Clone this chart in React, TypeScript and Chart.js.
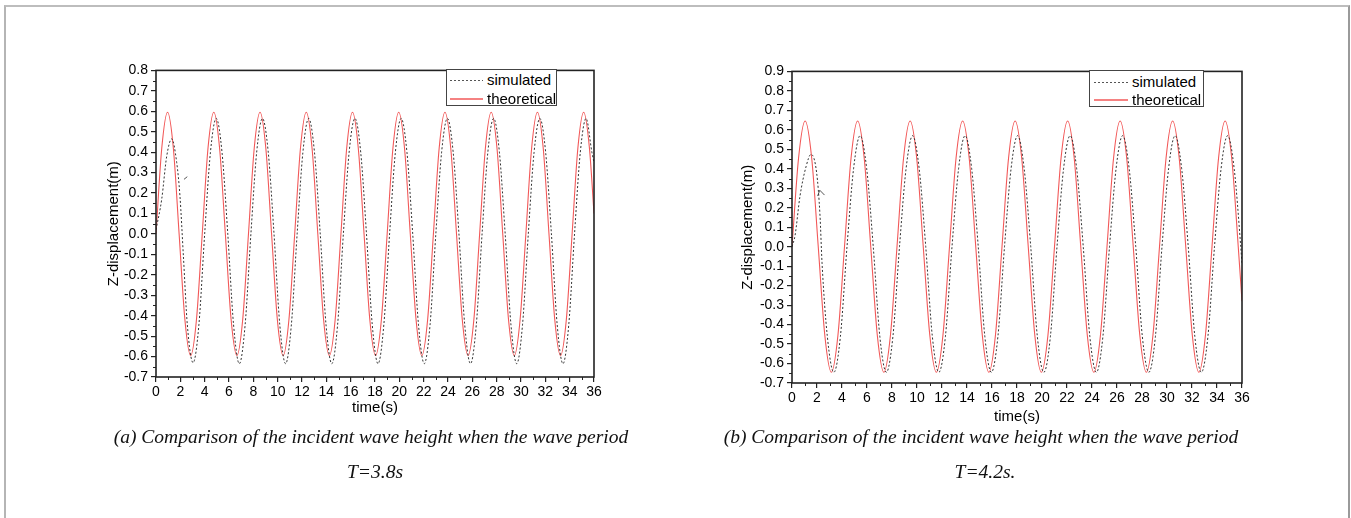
import React, { useEffect, useRef } from "react";
import { Chart, registerables } from "chart.js";

Chart.register(...registerables);

// ---------- Data ----------
// (a) T = 3.8 s
const theoTimeA = [
  0, 0.475, 0.95, 1.425, 1.9, 2.375, 2.85, 3.325,
  3.8, 4.275, 4.75, 5.225, 5.7, 6.175, 6.65, 7.125,
  7.6, 8.075, 8.55, 9.025, 9.5, 9.975, 10.45, 10.925,
  11.4, 11.875, 12.35, 12.825, 13.3, 13.775, 14.25, 14.725,
  15.2, 15.675, 16.15, 16.625, 17.1, 17.575, 18.05, 18.525,
  19.0, 19.475, 19.95, 20.425, 20.9, 21.375, 21.85, 22.325,
  22.8, 23.275, 23.75, 24.225, 24.7, 25.175, 25.65, 26.125,
  26.6, 27.075, 27.55, 28.025, 28.5, 28.975, 29.45, 29.925,
  30.4, 30.875, 31.35, 31.825, 32.3, 32.775, 33.25, 33.725,
  34.2, 34.675, 35.15, 35.625, 36,
];
const theoValueA = [
  0, 0.42, 0.595, 0.42, 0, -0.42, -0.595, -0.42,
  0, 0.42, 0.595, 0.42, 0, -0.42, -0.595, -0.42,
  0, 0.42, 0.595, 0.42, 0, -0.42, -0.595, -0.42,
  0, 0.42, 0.595, 0.42, 0, -0.42, -0.595, -0.42,
  0, 0.42, 0.595, 0.42, 0, -0.42, -0.595, -0.42,
  0, 0.42, 0.595, 0.42, 0, -0.42, -0.595, -0.42,
  0, 0.42, 0.595, 0.42, 0, -0.42, -0.595, -0.42,
  0, 0.42, 0.595, 0.42, 0, -0.42, -0.595, -0.42,
  0, 0.42, 0.595, 0.42, 0, -0.42, -0.595, -0.42,
  0, 0.42, 0.595, 0.42, 0.1,
];
const simTimeA = [
  0, 0.47, 0.88, 1.29, 1.7, 1.97, 2.25,
  2.575, 3.05, 3.525,
  4.0, 4.475, 4.95, 5.425, 5.9, 6.375, 6.85, 7.325,
  7.8, 8.275, 8.75, 9.225, 9.7, 10.175, 10.65, 11.125,
  11.6, 12.075, 12.55, 13.025, 13.5, 13.975, 14.45, 14.925,
  15.4, 15.875, 16.35, 16.825, 17.3, 17.775, 18.25, 18.725,
  19.2, 19.675, 20.15, 20.625, 21.1, 21.575, 22.05, 22.525,
  23.0, 23.475, 23.95, 24.425, 24.9, 25.375, 25.85, 26.325,
  26.8, 27.275, 27.75, 28.225, 28.7, 29.175, 29.65, 30.125,
  30.6, 31.075, 31.55, 32.025, 32.5, 32.975, 33.45, 33.925,
  34.4, 34.875, 35.35, 35.825, 36,
];
const simValueA = [
  0.02, 0.17, 0.38, 0.465, 0.35, 0.185, -0.107,
  -0.445, -0.63, -0.445,
  0, 0.4, 0.565, 0.4, 0, -0.445, -0.635, -0.445,
  0, 0.4, 0.565, 0.4, 0, -0.445, -0.635, -0.445,
  0, 0.4, 0.565, 0.4, 0, -0.445, -0.635, -0.445,
  0, 0.4, 0.565, 0.4, 0, -0.445, -0.635, -0.445,
  0, 0.4, 0.565, 0.4, 0, -0.445, -0.635, -0.445,
  0, 0.4, 0.565, 0.4, 0, -0.445, -0.635, -0.445,
  0, 0.4, 0.565, 0.4, 0, -0.445, -0.635, -0.445,
  0, 0.4, 0.565, 0.4, 0, -0.445, -0.635, -0.445,
  0, 0.4, 0.565, 0.4, 0.35,
];
const glitchTimeA = [2.3, 2.57];
const glitchValueA = [0.267, 0.28];

// (b) T = 4.2 s
const theoTimeB = [
  0, 0.525, 1.05, 1.575, 2.1, 2.625, 3.15, 3.675,
  4.2, 4.725, 5.25, 5.775, 6.3, 6.825, 7.35, 7.875,
  8.4, 8.925, 9.45, 9.975, 10.5, 11.025, 11.55, 12.075,
  12.6, 13.125, 13.65, 14.175, 14.7, 15.225, 15.75, 16.275,
  16.8, 17.325, 17.85, 18.375, 18.9, 19.425, 19.95, 20.475,
  21.0, 21.525, 22.05, 22.575, 23.1, 23.625, 24.15, 24.675,
  25.2, 25.725, 26.25, 26.775, 27.3, 27.825, 28.35, 28.875,
  29.4, 29.925, 30.45, 30.975, 31.5, 32.025, 32.55, 33.075,
  33.6, 34.125, 34.65, 35.175, 35.7, 36,
];
const theoValueB = [
  0, 0.455, 0.645, 0.455, 0, -0.455, -0.645, -0.455,
  0, 0.455, 0.645, 0.455, 0, -0.455, -0.645, -0.455,
  0, 0.455, 0.645, 0.455, 0, -0.455, -0.645, -0.455,
  0, 0.455, 0.645, 0.455, 0, -0.455, -0.645, -0.455,
  0, 0.455, 0.645, 0.455, 0, -0.455, -0.645, -0.455,
  0, 0.455, 0.645, 0.455, 0, -0.455, -0.645, -0.455,
  0, 0.455, 0.645, 0.455, 0, -0.455, -0.645, -0.455,
  0, 0.455, 0.645, 0.455, 0, -0.455, -0.645, -0.455,
  0, 0.455, 0.645, 0.455, 0, -0.28,
];
const simTimeB = [
  0, 0.24, 0.64, 1.12, 1.52, 1.97, 2.24, 2.4,
  2.825, 3.35, 3.875,
  4.4, 4.925, 5.45, 5.975, 6.5, 7.025, 7.55, 8.075,
  8.6, 9.125, 9.65, 10.175, 10.7, 11.225, 11.75, 12.275,
  12.8, 13.325, 13.85, 14.375, 14.9, 15.425, 15.95, 16.475,
  17.0, 17.525, 18.05, 18.575, 19.1, 19.625, 20.15, 20.675,
  21.2, 21.725, 22.25, 22.775, 23.3, 23.825, 24.35, 24.875,
  25.4, 25.925, 26.45, 26.975, 27.5, 28.025, 28.55, 29.075,
  29.6, 30.125, 30.65, 31.175, 31.7, 32.225, 32.75, 33.275,
  33.8, 34.325, 34.85, 35.375, 35.9, 36,
];
const simValueB = [
  0, 0.056, 0.26, 0.41, 0.474, 0.38, 0.16, -0.08,
  -0.46, -0.645, -0.46,
  0, 0.4, 0.57, 0.4, 0, -0.46, -0.645, -0.46,
  0, 0.4, 0.57, 0.4, 0, -0.46, -0.645, -0.46,
  0, 0.4, 0.57, 0.4, 0, -0.46, -0.645, -0.46,
  0, 0.4, 0.57, 0.4, 0, -0.46, -0.645, -0.46,
  0, 0.4, 0.57, 0.4, 0, -0.46, -0.645, -0.46,
  0, 0.4, 0.57, 0.4, 0, -0.46, -0.645, -0.46,
  0, 0.4, 0.57, 0.4, 0, -0.46, -0.645, -0.46,
  0, 0.4, 0.57, 0.4, 0, -0.09,
];
const glitchTimeB = [2.05, 2.22, 2.6];
const glitchValueB = [0.26, 0.29, 0.265];

const legendLabels = ["simulated", "theoretical"];
const xTitle = "time(s)";
const yTitle = "Z-displacement(m)";
const captionA = ["(a) Comparison of the incident wave height when the wave period", "T=3.8s"];
const captionB = ["(b) Comparison of the incident wave height when the wave period", "T=4.2s."];

// ---------- Styling ----------
const SANS = "'Liberation Sans', Arial, Helvetica, sans-serif";
const SERIF = "'Liberation Serif', 'Times New Roman', Times, serif";
const AXIS = "#222222";
const RED = "rgb(242,88,88)";
const DOT = "#333333";

const toPoints = (t: number[], v: number[]) => t.map((x, i) => ({ x, y: v[i] }));

const axisDecor = {
  id: "axisDecor",
  afterDraw(chart: any) {
    const { ctx, chartArea: a, scales } = chart;
    const x = scales.x;
    const y = scales.y;
    ctx.save();
    ctx.strokeStyle = AXIS;
    ctx.lineWidth = 1;
    const xs = x.options.ticks.stepSize;
    for (let v = x.min + xs / 2; v < x.max; v += xs) {
      const p = Math.round(x.getPixelForValue(v)) + 0.5;
      ctx.beginPath();
      ctx.moveTo(p, a.bottom);
      ctx.lineTo(p, a.bottom + 3);
      ctx.stroke();
    }
    const ys = y.options.ticks.stepSize;
    for (let k = 0; ; k++) {
      const v = y.min + ys / 2 + k * ys;
      if (v > y.max + 1e-9) break;
      const p = Math.round(y.getPixelForValue(v)) + 0.5;
      ctx.beginPath();
      ctx.moveTo(a.left, p);
      ctx.lineTo(a.left - 3, p);
      ctx.stroke();
    }
    ctx.lineWidth = 1.6;
    ctx.strokeRect(a.left, a.top, a.right - a.left, a.bottom - a.top);
    ctx.restore();
  },
};

type ChartProps = {
  left: number;
  top: number;
  width: number;
  height: number;
  yMin: number;
  yMax: number;
  yAxisWidth: number;
  xAxisHeight: number;
  yTitlePad: number;
  sim: { x: number; y: number }[];
  theo: { x: number; y: number }[];
  glitch: { x: number; y: number }[];
};

function WaveChart(p: ChartProps) {
  const ref = useRef<HTMLCanvasElement>(null);
  useEffect(() => {
    const chart = new Chart(ref.current as HTMLCanvasElement, {
      type: "line",
      data: {
        datasets: [
          {
            label: legendLabels[0],
            data: p.sim,
            borderColor: DOT,
            borderWidth: 1,
            borderDash: [2, 2],
            pointRadius: 0,
            cubicInterpolationMode: "monotone",
            fill: false,
          },
          {
            label: legendLabels[1],
            data: p.theo,
            borderColor: RED,
            borderWidth: 1.1,
            pointRadius: 0,
            cubicInterpolationMode: "monotone",
            fill: false,
          },
          {
            label: "",
            data: p.glitch,
            borderColor: "#555",
            borderWidth: 1,
            pointRadius: 0,
            tension: 0,
            fill: false,
          },
        ],
      },
      options: {
        animation: false,
        responsive: false,
        maintainAspectRatio: false,
        devicePixelRatio: 1,
        layout: { padding: { top: 10, right: 10, left: 0, bottom: 0 } },
        plugins: { legend: { display: false }, tooltip: { enabled: false } },
        events: [],
        scales: {
          x: {
            type: "linear",
            min: 0,
            max: 36,
            border: { display: false },
            grid: {
              drawOnChartArea: false,
              drawTicks: true,
              tickLength: 5,
              color: AXIS,
              tickColor: AXIS,
              lineWidth: 1.2,
            },
            ticks: {
              stepSize: 2,
              color: "#000",
              padding: 2,
              maxRotation: 0,
              autoSkip: false,
              font: { family: SANS, size: 14 },
            },
            title: {
              display: true,
              text: xTitle,
              color: "#000",
              font: { family: SANS, size: 15 },
              padding: { top: 0, bottom: 0 },
            },
            afterFit: (s: any) => {
              s.height = p.xAxisHeight;
            },
          },
          y: {
            type: "linear",
            min: p.yMin,
            max: p.yMax,
            border: { display: false },
            grid: {
              drawOnChartArea: false,
              drawTicks: true,
              tickLength: 5,
              color: AXIS,
              tickColor: AXIS,
              lineWidth: 1.2,
            },
            ticks: {
              stepSize: 0.1,
              color: "#000",
              padding: 3,
              autoSkip: false,
              font: { family: SANS, size: 14 },
              callback: (v: any) => {
                const n = Number(v);
                return Math.abs(n) < 1e-9 ? "0.0" : n.toFixed(1);
              },
            },
            title: {
              display: true,
              text: yTitle,
              color: "#000",
              font: { family: SANS, size: 15 },
              padding: { top: p.yTitlePad, bottom: 0 },
            },
            afterFit: (s: any) => {
              s.width = p.yAxisWidth;
            },
          },
        },
      },
      plugins: [axisDecor],
    } as any);
    return () => chart.destroy();
  }, []);
  return (
    <canvas
      ref={ref}
      width={p.width}
      height={p.height}
      style={{ position: "absolute", left: p.left, top: p.top, width: p.width, height: p.height }}
    />
  );
}

function Legend(props: { left: number; top: number; width: number; height: number; lineLeft: number; lineLen: number; textLeft: number; rows: number[] }) {
  const { left, top, width, height, lineLeft, lineLen, textLeft, rows } = props;
  const rowStyle = (c: number): React.CSSProperties => ({
    position: "absolute",
    left: 0,
    top: c - 10,
    height: 20,
    width: "100%",
  });
  return (
    <div
      style={{
        position: "absolute",
        left,
        top,
        width,
        height,
        boxSizing: "border-box",
        border: "1px solid #444",
        background: "#fff",
        fontFamily: SANS,
        fontSize: 15,
        color: "#000",
      }}
    >
      <div style={rowStyle(rows[0])}>
        <div
          style={{
            position: "absolute",
            left: lineLeft,
            top: 10,
            width: lineLen,
            height: 1,
            background: "repeating-linear-gradient(to right, #555 0px, #555 2px, #ffffff 2px, #ffffff 4px)",
          }}
        />
        <div style={{ position: "absolute", left: textLeft, top: 0, lineHeight: "20px", whiteSpace: "nowrap" }}>{legendLabels[0]}</div>
      </div>
      <div style={rowStyle(rows[1])}>
        <div
          style={{
            position: "absolute",
            left: lineLeft,
            top: 9,
            width: lineLen,
            height: 0,
            borderTop: "2px solid rgb(245,130,130)",
          }}
        />
        <div style={{ position: "absolute", left: textLeft, top: 0, lineHeight: "20px", whiteSpace: "nowrap" }}>{legendLabels[1]}</div>
      </div>
    </div>
  );
}

function Caption(props: { center: number; y: number; text: string }) {
  return (
    <div
      style={{
        position: "absolute",
        left: props.center - 400,
        width: 800,
        top: props.y - 12,
        lineHeight: "24px",
        textAlign: "center",
        fontFamily: SERIF,
        fontStyle: "italic",
        fontSize: 19.5,
        color: "#111",
        whiteSpace: "nowrap",
      }}
    >
      {props.text}
    </div>
  );
}

export default function App() {
  return (
    <div
      style={{
        position: "absolute",
        left: 0,
        top: 0,
        width: 1351,
        height: 518,
        overflow: "hidden",
        background: "#fff",
      }}
    >
      <div
        style={{
          position: "absolute",
          left: 4,
          top: 5,
          width: 1346,
          height: 600,
          boxSizing: "border-box",
          borderTop: "2px solid #bdbdbd",
          borderLeft: "2px solid #b5b5b5",
          borderRight: "2px solid #9a9a9a",
        }}
      />
      <WaveChart
        left={90}
        top={59}
        width={514}
        height={358}
        yMin={-0.7}
        yMax={0.8}
        yAxisWidth={66}
        xAxisHeight={40}
        yTitlePad={15}
        sim={toPoints(simTimeA, simValueA)}
        theo={toPoints(theoTimeA, theoValueA)}
        glitch={toPoints(glitchTimeA, glitchValueA)}
      />
      <WaveChart
        left={726}
        top={60}
        width={526}
        height={366}
        yMin={-0.7}
        yMax={0.9}
        yAxisWidth={66}
        xAxisHeight={43}
        yTitlePad={13}
        sim={toPoints(simTimeB, simValueB)}
        theo={toPoints(theoTimeB, theoValueB)}
        glitch={toPoints(glitchTimeB, glitchValueB)}
      />
      <Legend left={446} top={69} width={111} height={37} lineLeft={3} lineLen={33} textLeft={40} rows={[10, 28.5]} />
      <Legend left={1089} top={70} width={115} height={37} lineLeft={4} lineLen={34} textLeft={42} rows={[11, 28.5]} />
      <Caption center={371} y={437} text={captionA[0]} />
      <Caption center={375} y={472} text={captionA[1]} />
      <Caption center={981} y={437} text={captionB[0]} />
      <Caption center={985} y={472} text={captionB[1]} />
    </div>
  );
}
